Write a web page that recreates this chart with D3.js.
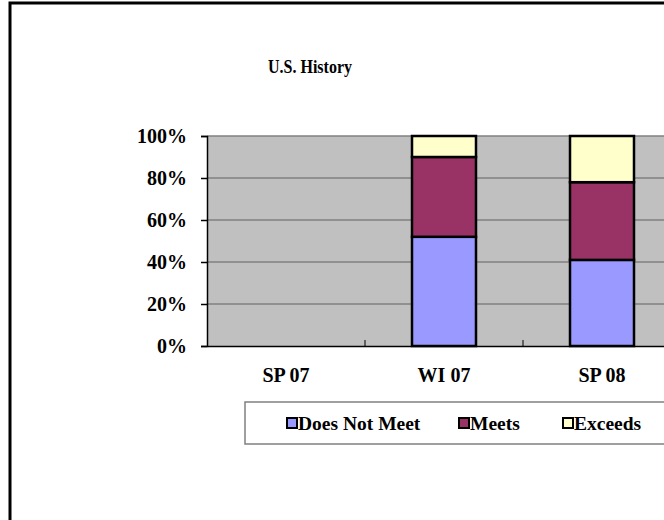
<!DOCTYPE html>
<html>
<head>
<meta charset="utf-8">
<script src="https://cdn.jsdelivr.net/npm/d3@7"></script>
<style>
  body { margin: 0; background: #fff; }
  text { font-family: "Liberation Serif", "Times New Roman", serif; font-weight: bold; fill: #000; }
</style>
</head>
<body>
<script>
// chart values
var categories = ["SP 07", "WI 07", "SP 08"];
var doesNotMeet = [0, 0.52, 0.41];
var meets = [0, 0.38, 0.37];
var exceeds = [0, 0.10, 0.22];
var seriesNames = ["Does Not Meet", "Meets", "Exceeds"];
var yTicks = [0, 0.2, 0.4, 0.6, 0.8, 1];

window.onload = drawChart();

function drawChart(){

    var width = 664, height = 520;
    var colors = ["#9999FF", "#993366", "#FFFFCC"];

    var svg = d3.select("body").append("svg")
        .attr("width", width)
        .attr("height", height);

    // outer chart border (runs off the right and bottom)
    svg.append("rect")
        .attr("x", 10).attr("y", 3)
        .attr("width", 700).attr("height", 560)
        .attr("fill", "#fff")
        .attr("stroke", "#000")
        .attr("stroke-width", 3);

    svg.append("text")
        .attr("x", 310).attr("y", 73)
        .attr("text-anchor", "middle")
        .attr("textLength", 84)
        .attr("lengthAdjust", "spacingAndGlyphs")
        .style("font-size", "19px")
        .text("U.S. History");

    // plot area
    var plotLeft = 207, plotTop = 136, plotBottom = 346, step = 158;

    var x = d3.scaleBand()
        .domain(categories)
        .range([plotLeft, plotLeft + step * categories.length])
        .padding(0);

    var y = d3.scaleLinear()
        .domain([0, 1])
        .range([plotBottom, plotTop]);

    svg.append("rect")
        .attr("x", plotLeft).attr("y", plotTop)
        .attr("width", x.range()[1] - plotLeft).attr("height", plotBottom - plotTop)
        .attr("fill", "#C0C0C0");

    //gridlines
    svg.selectAll(".grid")
        .data(yTicks.filter(function(d){ return d > 0; }))
        .enter().append("line")
        .attr("class", "grid")
        .attr("x1", plotLeft).attr("x2", x.range()[1])
        .attr("y1", function(d){ return y(d); })
        .attr("y2", function(d){ return y(d); })
        .attr("stroke", "#808080")
        .attr("stroke-width", 1.5);

    //stacked bars
    var table = categories.map(function(c, i){
        return { cat: c, "Does Not Meet": doesNotMeet[i], "Meets": meets[i], "Exceeds": exceeds[i] };
    });
    var stack = d3.stack().keys(seriesNames)(table);

    var barW = x.bandwidth() * 0.405;

    svg.selectAll(".series")
        .data(stack)
        .enter().append("g")
        .attr("class", "series")
        .attr("fill", function(d, i){ return colors[i]; })
        .selectAll("rect")
        .data(function(d){ return d.filter(function(p){ return p[1] - p[0] > 0; }); })
        .enter().append("rect")
        .attr("x", function(d){ return x(d.data.cat) + (x.bandwidth() - barW) / 2; })
        .attr("y", function(d){ return y(d[1]); })
        .attr("width", barW)
        .attr("height", function(d){ return y(d[0]) - y(d[1]); })
        .attr("stroke", "#000")
        .attr("stroke-width", 2.5);

    //y axis
    var yAxis = svg.append("g")
        .attr("transform", "translate(" + plotLeft + ",0)")
        .call(d3.axisLeft(y).tickValues(yTicks).tickFormat(d3.format(".0%")).tickSize(6).tickPadding(14));
    yAxis.select(".domain").attr("stroke-width", 1.5);
    yAxis.selectAll(".tick line").attr("stroke-width", 1.5);
    yAxis.selectAll("text").style("font-size", "20px").attr("font-family", null);

    //x axis
    var xAxis = svg.append("g")
        .attr("transform", "translate(0," + plotBottom + ")")
        .call(d3.axisBottom(x).tickSize(0).tickPadding(22));
    xAxis.select(".domain").attr("stroke-width", 1.5);
    xAxis.selectAll("text").style("font-size", "20px").attr("font-family", null);

    // category separators (ticks pointing up)
    svg.selectAll(".sep")
        .data(categories.slice(1))
        .enter().append("line")
        .attr("x1", function(d){ return x(d); })
        .attr("x2", function(d){ return x(d); })
        .attr("y1", plotBottom).attr("y2", plotBottom - 6)
        .attr("stroke", "#000");

    //legend
    var legend = svg.append("g");
    legend.append("rect")
        .attr("x", 245).attr("y", 402)
        .attr("width", 500).attr("height", 42)
        .attr("fill", "#fff")
        .attr("stroke", "#808080")
        .attr("stroke-width", 1.5);

    var legendX = [287, 459, 563];
    var items = legend.selectAll(".item")
        .data(seriesNames)
        .enter().append("g")
        .attr("transform", function(d, i){ return "translate(" + legendX[i] + ",418)"; });
    items.append("rect")
        .attr("width", 10).attr("height", 10)
        .attr("fill", function(d, i){ return colors[i]; })
        .attr("stroke", "#000")
        .attr("stroke-width", 2);
    items.append("text")
        .attr("x", 11).attr("y", 12)
        .style("font-size", "19.5px")
        .text(function(d){ return d; });
}
</script>
</body>
</html>
